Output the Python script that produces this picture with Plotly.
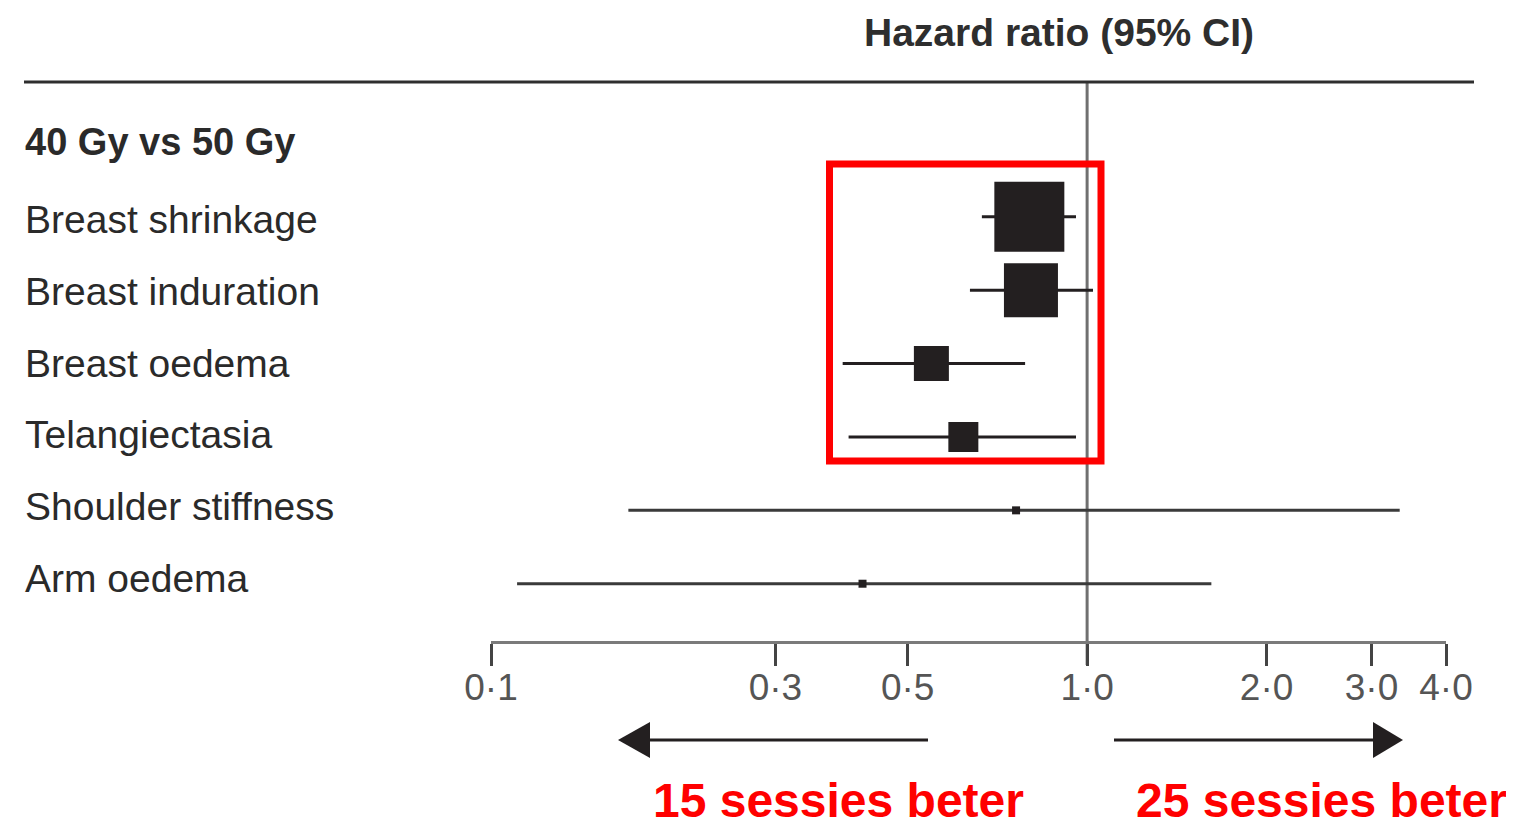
import math
import plotly.graph_objects as go

# ---------------- data ----------------
outcomes = ["Breast shrinkage", "Breast induration", "Breast oedema",
            "Telangiectasia", "Shoulder stiffness", "Arm oedema"]
hr = [0.80, 0.805, 0.548, 0.62, 0.76, 0.42]
ci_low = [0.666, 0.636, 0.389, 0.398, 0.170, 0.1106]
ci_high = [0.958, 1.023, 0.787, 0.958, 3.345, 1.616]
group_label = "40 Gy vs 50 Gy"
tick_vals = [0.1, 0.3, 0.5, 1.0, 2.0, 3.0, 4.0]
tick_text = ["0·1", "0·3", "0·5", "1·0", "2·0", "3·0", "4·0"]
title_text = "Hazard ratio (95% CI)"
left_text = "15 sessies beter"
right_text = "25 sessies beter"

# ---------------- style ----------------
W, H = 1514, 823
OFF = 8  # page body margin of the html page
box_px = [70, 54, 35, 30, 8, 8]
FONT = "Liberation Sans, Arial, sans-serif"
DARK = "#231f20"


def px(x):
    return (x - OFF) / W


def py(y):
    return 1 - (y - OFF) / H


idx = list(range(len(outcomes)))
row0, pitch = 211.5 - OFF, 74.3
lab0, lab_pitch = 214 - OFF, 72.8
axis_y = 641 - OFF

fig = go.Figure()

split = 4
for sl, col in [(slice(0, split), DARK), (slice(split, None), "#3a3a3a")]:
    x = hr[sl]
    fig.add_trace(go.Scatter(
        x=x, y=idx[sl], mode="markers",
        marker=dict(symbol="square", size=box_px[sl], color=DARK, opacity=1,
                    line=dict(width=0)),
        error_x=dict(type="data", symmetric=False,
                     array=[h - m for h, m in zip(ci_high[sl], x)],
                     arrayminus=[m - l for m, l in zip(x, ci_low[sl])],
                     thickness=3, width=0, color=col),
        hoverinfo="skip", showlegend=False, cliponaxis=False,
    ))

shapes = []
# top rule
shapes.append(dict(type="line", xref="paper", yref="paper", x0=px(24), x1=px(1474),
                   y0=py(82), y1=py(82), line=dict(color="#2e2e2e", width=3)))
# line of no effect
shapes.append(dict(type="line", xref="x", yref="paper", x0=1.0, x1=1.0,
                   y0=py(82), y1=py(665), line=dict(color="#707070", width=3),
                   layer="below"))
# arrows
ay = 740
shapes.append(dict(type="line", xref="paper", yref="paper", x0=px(928), x1=px(646),
                   y0=py(ay), y1=py(ay), line=dict(color=DARK, width=3)))
shapes.append(dict(type="path", xref="paper", yref="paper",
                   path=f"M {px(618)},{py(ay)} L {px(650)},{py(ay-18)} L {px(650)},{py(ay+18)} Z",
                   fillcolor=DARK, line=dict(width=0)))
shapes.append(dict(type="line", xref="paper", yref="paper", x0=px(1114), x1=px(1374),
                   y0=py(ay), y1=py(ay), line=dict(color=DARK, width=3)))
shapes.append(dict(type="path", xref="paper", yref="paper",
                   path=f"M {px(1403)},{py(ay)} L {px(1373)},{py(ay-18)} L {px(1373)},{py(ay+18)} Z",
                   fillcolor=DARK, line=dict(width=0)))
# red highlight box
shapes.append(dict(type="rect", xref="paper", yref="paper", x0=px(829.5), x1=px(1101),
                   y0=py(164), y1=py(461), line=dict(color="#ff0000", width=7)))

annotations = []
annotations.append(dict(text=f"<b>{title_text}</b>", xref="paper", yref="paper",
                        x=px(1059), y=py(32), xanchor="center", yanchor="middle",
                        showarrow=False, font=dict(family=FONT, size=39, color="#2e2e2e")))
annotations.append(dict(text=f"<b>{group_label}</b>", xref="paper", yref="paper",
                        x=px(23), y=py(142), xanchor="left", yanchor="middle",
                        showarrow=False, font=dict(family=FONT, size=38, color="#2a2a2a")))
for i, name in zip(idx, outcomes):
    shift = (row0 + pitch * i) - (lab0 + lab_pitch * i)
    annotations.append(dict(text=name, xref="paper", yref="y", x=px(23), y=i,
                            yshift=shift, xanchor="left", yanchor="middle",
                            showarrow=False,
                            font=dict(family=FONT, size=39, color="#2a2a2a")))
annotations.append(dict(text=f"<b>{left_text}</b>", xref="paper", yref="paper",
                        x=px(838), y=py(800), xanchor="center", yanchor="middle",
                        showarrow=False, font=dict(family=FONT, size=48, color="#ff0000")))
annotations.append(dict(text=f"<b>{right_text}</b>", xref="paper", yref="paper",
                        x=px(1321), y=py(800), xanchor="center", yanchor="middle",
                        showarrow=False, font=dict(family=FONT, size=48, color="#ff0000")))

fig.update_layout(
    template="none",
    width=W, height=H, autosize=False,
    margin=dict(l=0, r=0, t=0, b=0, pad=0, autoexpand=False),
    paper_bgcolor="white", plot_bgcolor="white",
    showlegend=False,
    shapes=shapes, annotations=annotations,
    xaxis=dict(type="log", domain=[px(491), px(1446)], automargin=False,
               range=[math.log10(0.1), math.log10(4.0)],
               tickvals=tick_vals, ticktext=tick_text,
               showline=True, linecolor="#7a7a7a", linewidth=3,
               ticks="outside", ticklen=22, tickwidth=2.5, tickcolor="#444444",
               ticklabelstandoff=-10,
               tickfont=dict(family=FONT, size=37, color="#555555"),
               showgrid=False, zeroline=False, fixedrange=True),
    yaxis=dict(domain=[py(axis_y + OFF), 1], automargin=False,
               range=[(axis_y - row0) / pitch, (-OFF - row0) / pitch],
               visible=False, showgrid=False, zeroline=False, fixedrange=True),
)

fig.write_html("out.html")
